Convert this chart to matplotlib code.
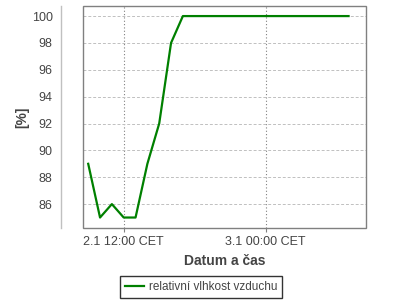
import matplotlib
matplotlib.use("Agg")
import matplotlib.pyplot as plt
from matplotlib.patches import Rectangle

# hours since 2.1 00:00
hours = list(range(9, 32))
humidity = [89, 85, 86, 85, 85, 89, 92, 98, 100, 100, 100, 100, 100, 100,
            100, 100, 100, 100, 100, 100, 100, 100, 100]
xtick_pos = [12, 24]
xtick_labels = ["2.1 12:00 CET", "3.1 00:00 CET"]
ytick_vals = [86, 88, 90, 92, 94, 96, 98, 100]
series_name = "relativní vlhkost vzduchu"

plt.rcParams['font.family'] = ['Liberation Sans', 'DejaVu Sans']
fig = plt.figure(figsize=(4, 3), dpi=100)
ax = fig.add_axes([0.2075, 0.24, 0.7068, 0.74])

ax.plot(hours, humidity, color="#008000", lw=1.6, label=series_name)
ax.set_xlim(8.56, 32.45)
ax.set_ylim(84.22, 100.75)

ax.set_xticks(xtick_pos)
ax.set_xticklabels(xtick_labels)
ax.set_yticks(ytick_vals)
ax.tick_params(axis='x', length=3, color="#808080", labelsize=9, labelcolor="#444444", pad=3)
ax.tick_params(axis='y', length=0, labelsize=9, labelcolor="#444444", pad=6)

ax.yaxis.grid(True, color="#c0c0c0", linestyle=(0, (3, 2)), lw=0.7)
ax.xaxis.grid(True, color="#808080", linestyle=(0, (1, 2)), lw=0.8)

for s in ["top", "right", "bottom"]:
    ax.spines[s].set_visible(False)
ax.spines["left"].set_position(("outward", 15.8))
ax.spines["left"].set_color("#c0c0c0")
ax.spines["left"].set_linewidth(1.0)
ax.add_patch(Rectangle((0, 0), 1, 1, transform=ax.transAxes, fill=False,
                       edgecolor="#808080", lw=1.0, clip_on=False, zorder=5))

ax.set_xlabel("Datum a čas", fontsize=10, fontweight="bold", color="#444444", labelpad=4)
ax.set_ylabel("[%]", fontsize=10, fontweight="bold", color="#444444", labelpad=1.5)

leg = fig.legend(loc="center", bbox_to_anchor=(0.503, 0.0433), frameon=True,
                 fontsize=8.5, handlelength=1.6, handletextpad=0.4,
                 borderpad=0.4, fancybox=False)
leg.get_frame().set_edgecolor("black")
leg.get_frame().set_linewidth(1.0)
for t in leg.get_texts():
    t.set_color("#444444")

fig.savefig("out.png", dpi=100)
